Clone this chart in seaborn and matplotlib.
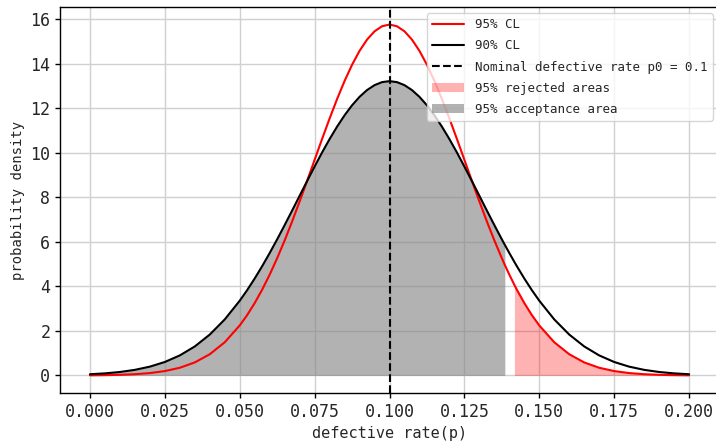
import seaborn as sns
import matplotlib
matplotlib.use('Agg')
import matplotlib.pyplot as plt
import pandas as pd

# defective rate grid (extra points at the area limits)
p = [0.000, 0.005, 0.010, 0.015, 0.020, 0.025, 0.030, 0.035, 0.040, 0.045,
     0.050, 0.0525, 0.055, 0.0575, 0.060, 0.0625, 0.065, 0.0675, 0.070, 0.0725,
     0.075, 0.0775, 0.080, 0.0825, 0.085, 0.0875, 0.090, 0.0925, 0.095, 0.0975,
     0.100, 0.1025, 0.105, 0.1075, 0.110, 0.1125, 0.115, 0.1175, 0.120, 0.1225,
     0.125, 0.1275, 0.130, 0.1325, 0.135, 0.1375, 0.1385, 0.140, 0.1417, 0.1425,
     0.145, 0.1475, 0.150, 0.155, 0.160, 0.165, 0.170, 0.175, 0.180, 0.185,
     0.190, 0.195, 0.200]

# 95% CL curve
dens_95 = [0.0065, 0.0139, 0.0286, 0.0565, 0.107, 0.197, 0.346, 0.585, 0.953, 1.491,
           2.245, 2.714, 3.251, 3.854, 4.526, 5.264, 6.063, 6.915, 7.811, 8.737,
           9.677, 10.616, 11.532, 12.406, 13.217, 13.944, 14.569, 15.074, 15.446, 15.673,
           15.75, 15.673, 15.446, 15.074, 14.569, 13.944, 13.217, 12.406, 11.532, 10.616,
           9.677, 8.737, 7.811, 6.915, 6.063, 5.264, 4.961, 4.526, 4.062, 3.854,
           3.251, 2.714, 2.245, 1.491, 0.953, 0.585, 0.346, 0.197, 0.107, 0.0565,
           0.0286, 0.0139, 0.0065]

# 90% CL curve
dens_90 = [0.055, 0.0938, 0.156, 0.252, 0.396, 0.605, 0.900, 1.303, 1.836, 2.516,
           3.355, 3.834, 4.353, 4.907, 5.495, 6.111, 6.749, 7.403, 8.065, 8.727,
           9.378, 10.009, 10.609, 11.168, 11.677, 12.126, 12.505, 12.809, 13.030, 13.165,
           13.21, 13.165, 13.030, 12.809, 12.505, 12.126, 11.677, 11.168, 10.609, 10.009,
           9.378, 8.727, 8.065, 7.403, 6.749, 6.111, 5.861, 5.495, 5.092, 4.907,
           4.353, 3.834, 3.355, 2.516, 1.836, 1.303, 0.900, 0.605, 0.396, 0.252,
           0.156, 0.0938, 0.055]

p0 = 0.1
accept_limit = 0.1385
reject_limit = 0.1417

xtick_vals = [0.0, 0.025, 0.05, 0.075, 0.1, 0.125, 0.15, 0.175, 0.2]
xtick_labels = ['0.000', '0.025', '0.050', '0.075', '0.100', '0.125',
                '0.150', '0.175', '0.200']

df = pd.DataFrame({'p': p, 'd95': dens_95, 'd90': dens_90})

sns.set_theme(style='ticks', rc={'axes.grid': True, 'grid.color': '#d0d0d0',
                                 'grid.linewidth': 1.0, 'axes.edgecolor': 'black',
                                 'axes.linewidth': 1.0})
plt.rcParams['font.family'] = ['DejaVu Sans Mono']

fig = plt.figure(figsize=(7.16, 4.46), dpi=100)
ax = fig.add_axes([0.0838, 0.1188, 0.9204, 0.8655])

sns.lineplot(data=df, x='p', y='d95', color='red', linewidth=1.5, label='95% CL',
             ax=ax, zorder=3)
sns.lineplot(data=df, x='p', y='d90', color='black', linewidth=1.5, label='90% CL',
             ax=ax, zorder=3)
ax.axvline(p0, color='black', linestyle='--', linewidth=1.5, zorder=4,
           label='Nominal defective rate p0 = 0.1')

rej = df[df['p'] >= reject_limit]
acc = df[df['p'] <= accept_limit]
ax.fill_between(rej['p'], rej['d95'], color='red', alpha=0.3, linewidth=0,
                label='95% rejected areas', zorder=1)
ax.fill_between(acc['p'], acc['d90'], color='gray', alpha=0.6, linewidth=0,
                label='95% acceptance area', zorder=1)

ax.set_xlabel('defective rate(p)', fontsize=11)
ax.set_ylabel('probability density', fontsize=10)
ax.tick_params(axis='both', labelsize=12, length=3.5, width=1.0, color='black')
ax.set_xticks(xtick_vals)
ax.set_xticklabels(xtick_labels)

ax.legend(loc='upper right', fontsize=9, framealpha=0.8, fancybox=True,
          handlelength=2.6, handletextpad=0.9, labelspacing=0.65)

fig.savefig('out.png', dpi=100)
